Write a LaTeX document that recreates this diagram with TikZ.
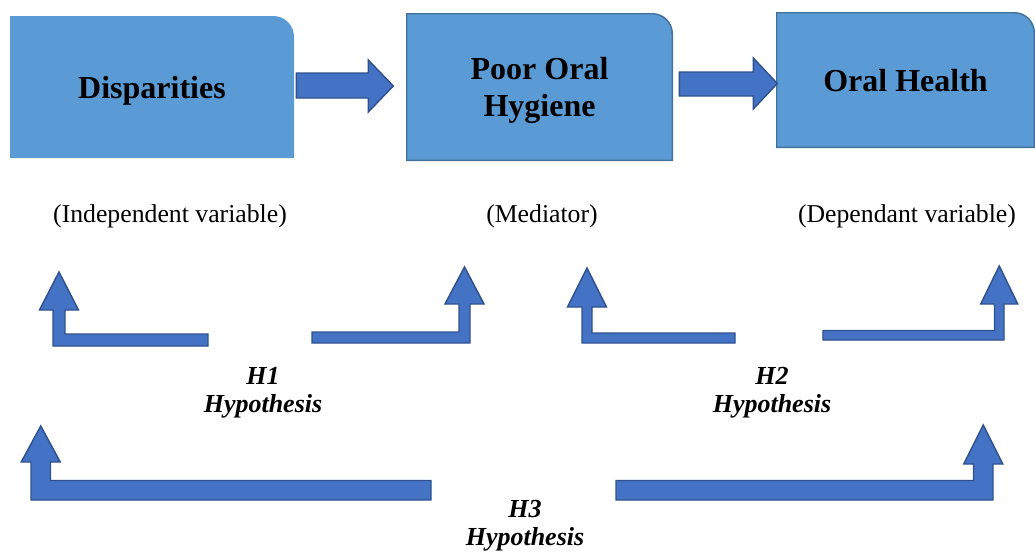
\documentclass[tikz,border=0pt]{standalone}
\usepackage{fontspec}
\setmainfont{Liberation Serif}
\usetikzlibrary{calc}
\pgfdeclarelayer{background}
\pgfsetlayers{background,main}
\definecolor{boxblue}{HTML}{5B9BD5}
\definecolor{boxedge}{HTML}{41719C}
\definecolor{arrowblue}{HTML}{4472C4}
\definecolor{arrowedge}{HTML}{2F528F}
\tikzset{
	varbox/.style={inner sep=0pt, align=center, text depth=0pt, font=\fontsize{24}{27.75}\selectfont\bfseries},
	varlabel/.style={anchor=base, font=\fontsize{19.3}{23}\selectfont},
	hyplabel/.style={align=center, font=\fontsize{19.5}{21}\selectfont\bfseries\itshape},
	blockarrow/.style={fill=arrowblue, draw=arrowedge, line width=1.1pt, line join=miter},
}
\begin{document}
\begin{tikzpicture}[x=0.75pt, y=-0.75pt]
	\useasboundingbox (0,0) rectangle (1035,554);

	% the three variables
	\node[varbox, minimum width=211.5pt, minimum height=105pt] (disp) at (152,87) {Disparities};
	\node[varbox, minimum width=198.75pt, minimum height=109.5pt] (poh) at (539.5,87) {Poor Oral\\Hygiene};
	\node[varbox, minimum width=192.75pt, minimum height=100.5pt] (oh) at (905.5,80) {Oral Health};

	\begin{pgfonlayer}{background}
		\foreach \b/\e in {disp/boxblue, poh/boxedge, oh/boxedge}
		\draw[fill=boxblue, draw=\e, line width=1.1pt] (\b.south west) -- (\b.north west)
			-- ([xshift=-15pt]\b.north east) arc[start angle=90, end angle=0, radius=15pt]
			-- (\b.south east) -- cycle;
	\end{pgfonlayer}

	\draw[blockarrow] ($(disp.east)+(3,-14)$) -- ++(72,0) -- ++(0,-13) -- ++(25,26)
		-- ++(-25,26) -- ++(0,-14) -- ++(-72,0) -- cycle;
	\draw[blockarrow] ($(poh.east)+(7,-15)$) -- ++(74,0) -- ++(0,-14) -- ++(24,25.5)
		-- ++(-24,25.5) -- ++(0,-13) -- ++(-74,0) -- cycle;

	\node[varlabel] (indep) at (170,222) {(Independent variable)};
	\node[varlabel] (medi) at (542,222) {(Mediator)};
	\node[varlabel] (dep) at (907,222) {(Dependant variable)};

	% hypothesis arrows: tail x / corner x / bottom y / width / head y / head half / tip y / side
	\foreach \tx/\ox/\by/\t/\hy/\hw/\ty/\s in {
		208/53/346/12/310/19.5/272/1,
		312/470/343/11/304/19.5/267/-1,
		735/582/343/10/307/19.5/268/1,
		823/1004/340/9.5/304/18.5/266/-1,
		431/31/500/19.5/462/19.5/426/1,
		616/993/500/19.5/464/19.5/425/-1}
	\draw[blockarrow] (\tx,\by) -- (\ox,\by) -- (\ox,\hy) -- ({\ox+(\s)*(\t/2-\hw)},\hy)
		-- ({\ox+(\s)*\t/2},\ty) -- ({\ox+(\s)*(\t/2+\hw)},\hy) -- ({\ox+(\s)*\t},\hy)
		-- ({\ox+(\s)*\t},{\by-\t}) -- (\tx,{\by-\t}) -- cycle;

	\node[hyplabel] (hyp1) at (263,393) {H1\\Hypothesis};
	\node[hyplabel] (hyp2) at (772,393) {H2\\Hypothesis};
	\node[hyplabel] (hyp3) at (525,526) {H3\\Hypothesis};
\end{tikzpicture}
\end{document}
